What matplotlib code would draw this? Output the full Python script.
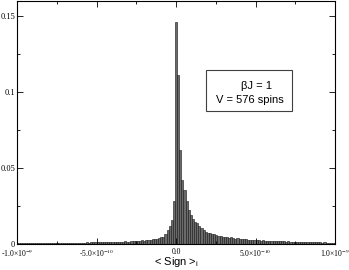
"""Histogram of the sign average at beta J = 1 for V = 576 spins."""

import numpy as np
import matplotlib
matplotlib.use("Agg")
import matplotlib.pyplot as plt
from matplotlib.ticker import MultipleLocator

# Bin heights, bin 0 sits at <Sign> = 0
sign_right = [
    0.146, 0.111, 0.062, 0.042, 0.0355, 0.028, 0.0224, 0.019, 0.0162, 0.0147,
    0.0136, 0.0118, 0.0103, 0.0092, 0.0081, 0.0074, 0.0070, 0.0066, 0.0064, 0.0059,
    0.0052, 0.0050, 0.0047, 0.0046, 0.0044, 0.0042, 0.0043, 0.0038, 0.0036, 0.0037,
    0.0034, 0.0033, 0.0030, 0.0031, 0.0028, 0.0029, 0.0026, 0.0027, 0.0024, 0.0025,
    0.0022, 0.0024, 0.0021, 0.0022, 0.0020, 0.0021, 0.0019, 0.0020, 0.0018, 0.0019,
    0.0017, 0.0018, 0.0016, 0.0017, 0.0015, 0.0016, 0.0015, 0.0014, 0.0015, 0.0013,
    0.0014, 0.0012, 0.0013, 0.0012, 0.0011, 0.0012, 0.0010, 0.0011, 0.0010, 0.0009,
    0.0010, 0.0009, 0.0008, 0.0009, 0.0008, 0.0008,
]
# bins -1, -2, ... going left from zero
sign_left = [
    0.028, 0.0158, 0.0118, 0.0092, 0.0068, 0.0048, 0.0046, 0.0037, 0.0035, 0.0030,
    0.0031, 0.0028, 0.0029, 0.0025, 0.0022, 0.0024, 0.0020, 0.0022, 0.0018, 0.0017,
    0.0019, 0.0016, 0.0015, 0.0017, 0.0014, 0.0016, 0.0013, 0.0015, 0.0012, 0.0014,
    0.0012, 0.0011, 0.0013, 0.0011, 0.0012, 0.0010, 0.0011, 0.0010, 0.0010, 0.0011,
    0.0009, 0.0010, 0.0008, 0.0009, 0.0008, 0.0009, 0.0007, 0.0008, 0.0007, 0.0008,
    0.0006, 0.0007, 0.0006, 0.0007, 0.0005, 0.0006, 0.0006, 0.0005, 0.0006, 0.0005,
    0.0006, 0.0005, 0.0005, 0.0006, 0.0005, 0.0004, 0.0005, 0.0005, 0.0004, 0.0005,
    0.0004, 0.0005, 0.0004, 0.0004, 0.0004,
]
x_ticks = [-1e-9, -5e-10, 0.0, 5e-10, 1e-9]
x_tick_labels = ["-1.0×10$^{-9}$", "-5.0×10$^{-10}$", "0.0",
                 "5.0×10$^{-10}$", "1.0×10$^{-9}$"]
y_ticks = [0, 0.05, 0.1, 0.15]
y_tick_labels = ["0", "0.05", "0.1", "0.15"]

bin_w = 2e-9 / 150
heights = sign_left[::-1] + sign_right
centers = (np.arange(len(heights)) - len(sign_left)) * bin_w

plt.rcParams["mathtext.fontset"] = "stix"

fig = plt.figure(figsize=(3.49, 2.70), dpi=100)
ax = fig.add_axes([0.049, 0.0963, 0.911, 0.9])

ax.bar(centers, heights, width=bin_w, facecolor="#6a6a6a",
       edgecolor="#151515", linewidth=0.4)

ax.set_xlim(-1e-9, 1e-9)
ax.set_ylim(0, 0.16)

ax.set_xticks(x_ticks)
ax.set_xticklabels(x_tick_labels, family="Liberation Serif", fontsize=5.5)
ax.set_yticks(y_ticks)
ax.set_yticklabels(y_tick_labels, family="Liberation Serif", fontsize=6)
ax.xaxis.set_minor_locator(MultipleLocator(2.5e-10))
ax.yaxis.set_minor_locator(MultipleLocator(0.025))
ax.tick_params(which="both", direction="in", top=True, right=True,
               width=0.6)
ax.tick_params(axis="x", which="major", pad=2.8)
ax.tick_params(axis="y", which="major", pad=1.5)
ax.tick_params(which="major", length=4)
ax.tick_params(which="minor", length=2)
for s in ax.spines.values():
    s.set_linewidth(0.8)

# axis title placed by hand, the tick labels leave little room below
fig.text(176 / 349, 1 - 262 / 270, "< Sign >$_{\\mathregular{i}}$",
         family="Liberation Sans", fontsize=8, ha="center", va="center")

box = plt.Rectangle((0.594, 0.547), 0.271, 0.168, transform=ax.transAxes,
                    facecolor="white", edgecolor="#404040", linewidth=0.8)
ax.add_patch(box)
ax.text(0.703, 0.652, "βJ = 1", transform=ax.transAxes, family="Liberation Sans",
        fontsize=8, va="center", ha="left")
ax.text(0.627, 0.594, "V = 576 spins", transform=ax.transAxes,
        family="Liberation Sans", fontsize=8, va="center", ha="left")

fig.savefig("out.png", dpi=100)
